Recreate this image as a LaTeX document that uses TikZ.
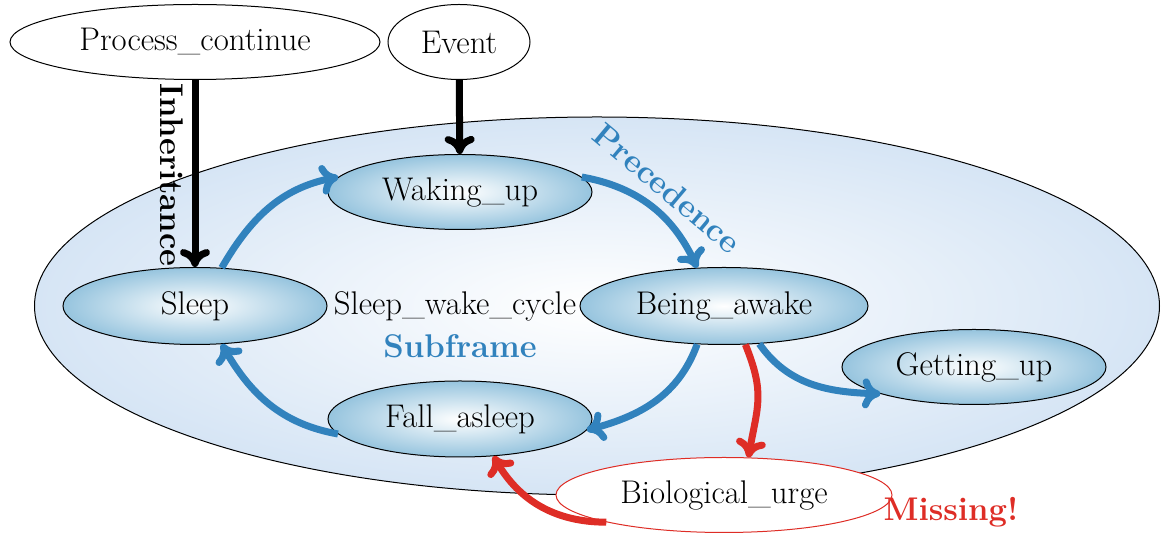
\documentclass[tikz,border=0pt]{standalone}
\usetikzlibrary{shapes.geometric,arrows.meta}
\definecolor{flowblue}{RGB}{49,130,189}
\definecolor{alertred}{RGB}{222,45,38}
\definecolor{stateedge}{RGB}{150,196,222}
\definecolor{frameedge}{RGB}{214,229,245}
\begin{document}
\begin{tikzpicture}[x=0.5pt,y=0.5pt,
  every node/.style={font=\fontsize{16.4}{19}\selectfont},
  state/.style={ellipse, draw, line width=0.5pt, inner sep=0pt,
    shading=radial, inner color=white, outer color=stateedge},
  plainstate/.style={ellipse, draw, line width=0.5pt, inner sep=0pt, fill=white},
  framebox/.style={ellipse, draw, line width=0.5pt, inner sep=0pt,
    shading=radial, inner color=white, outer color=frameedge},
  tip/.style={-{Computer Modern Rightarrow[round, length=9pt, width=15pt]}},
  flowarrow/.style={line width=3.5pt, flowblue, tip},
  missarrow/.style={line width=3.5pt, alertred, tip},
  inharrow/.style={line width=3.5pt, black, tip},
  boldlabel/.style={font=\fontsize{16.4}{19}\selectfont\bfseries}]
\useasboundingbox (0,0) rectangle (1175,-533);

% enclosing frame
\node[framebox, minimum width=562.5pt, minimum height=189pt] (frame) at (597,-306) {};

% states
\node[plainstate, minimum width=185pt, minimum height=37.5pt] (Process) at (195,-42) {Process\_continue};
\node[plainstate, minimum width=71pt, minimum height=37.5pt] (Event) at (459,-42) {Event};
\node[state, minimum width=132pt, minimum height=37.5pt] (Waking) at (460,-192) {Waking\_up};
\node[state, minimum width=132pt, minimum height=38.5pt] (Sleep) at (195,-306) {Sleep};
\node[state, minimum width=144pt, minimum height=38.5pt] (Being) at (724,-306) {Being\_awake};
\node[state, minimum width=132pt, minimum height=38pt] (Fall) at (460,-419) {Fall\_asleep};
\node[state, minimum width=132pt, minimum height=37.5pt] (Getting) at (974,-367) {Getting\_up};
\node[plainstate, draw=alertred, minimum width=168pt, minimum height=37.5pt] (Bio) at (724,-495) {Biological\_urge};

% frame texts
\node (cycle) at (455,-306) {Sleep\_wake\_cycle};
\node[boldlabel, text=flowblue] (sub) at (460,-346) {Subframe};

% inheritance
\draw[inharrow] (Process) -- (Sleep);
\draw[inharrow] (Event) -- (Waking);

% precedence cycle
\draw[flowarrow] (Sleep.55) to[out=60,in=191] (Waking.173);
\draw[flowarrow] (Waking.7) to[out=-10,in=115] (Being.125);
\draw[flowarrow] (Being.235) to[out=-110,in=15] (Fall.-5);
\draw[flowarrow] (Fall.187) to[out=170,in=-60] (Sleep.-55);
\draw[flowarrow] (Being.-47) to[out=-55,in=178] (Getting.196);

% missing frame
\draw[missarrow] (Being.-61) to[out=-68,in=80,looseness=1.2] (Bio.57);
\draw[missarrow] (Bio.193) to[out=180,in=-60] (Fall.-48);

% labels
\node[boldlabel, rotate=-90] (inh) at (172,-175) {Inheritance};
\node[boldlabel, text=flowblue, rotate=-40] (prec) at (667,-188) {Precedence};
\node[boldlabel, text=alertred] (miss) at (951,-512) {Missing!};
\end{tikzpicture}
\end{document}
